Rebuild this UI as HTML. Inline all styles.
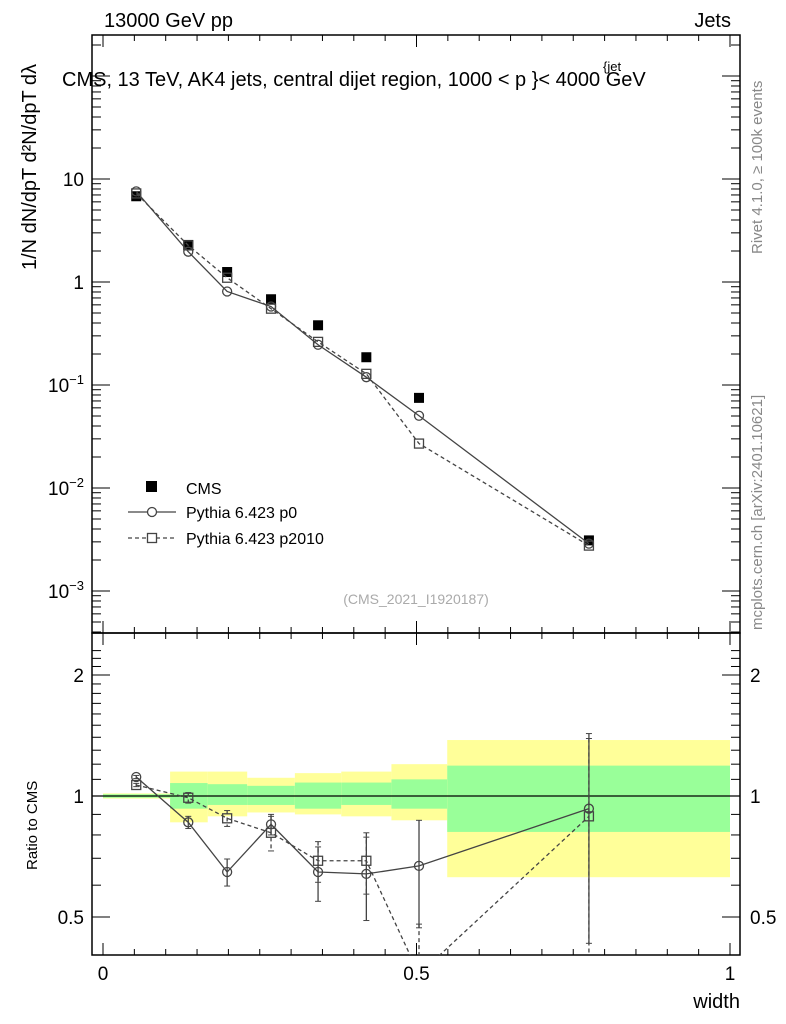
<!DOCTYPE html>
<html><head><meta charset="utf-8"><style>
body{margin:0;background:#fff}
svg{display:block;font-family:"Liberation Sans",sans-serif}
</style></head><body>
<svg id="c" width="786" height="1024" viewBox="0 0 786 1024"></svg>
<script>
const xs=[0.053,0.136,0.198,0.268,0.343,0.42,0.504,0.775];
const cmsVals=[6.8,2.29,1.25,0.68,0.38,0.186,0.075,0.0031];
const p0Ratio=[1.115,0.86,0.647,0.85,0.647,0.64,0.67,0.93];
const p0RatioErr=[0.01,0.03,0.05,0.05,0.1,0.15,0.2,0.5];
const p2010Ratio=[1.065,0.99,0.88,0.81,0.69,0.69,0.36,0.89];
const p2010RatioErr=[0.01,0.03,0.04,0.08,0.08,0.12,0.12,0.5];
const binEdges=[0,0.107,0.167,0.23,0.306,0.38,0.46,0.549,1.0];
const greenLo=[0.99,0.93,0.95,0.95,0.93,0.95,0.93,0.814];
const greenHi=[1.01,1.077,1.07,1.06,1.08,1.08,1.1,1.19];
const yellowLo=[0.985,0.86,0.89,0.91,0.90,0.89,0.87,0.628];
const yellowHi=[1.015,1.15,1.15,1.11,1.14,1.15,1.2,1.378];
const yTicks=[{v:10,l:"10"},{v:1,l:"1"},{v:0.1,l:"10",e:"−1"},{v:0.01,l:"10",e:"−2"},{v:0.001,l:"10",e:"−3"}];
const rTicks=[{v:2,l:"2"},{v:1,l:"1"},{v:0.5,l:"0.5"}];

const NS="http://www.w3.org/2000/svg";
const svg=document.getElementById('c');
const L=92,R=740,T=35,M=633,B=955;
const X=v=>103+v*627;
const Y=v=>179-(Math.log10(v)-1)*103;
const RY=v=>796-Math.log2(v)*121;
function el(t,a,p){const e=document.createElementNS(NS,t);for(const k in a)e.setAttribute(k,a[k]);(p||svg).appendChild(e);return e;}
function tx(s,a){const e=el('text',a);e.textContent=s;return e;}

const bands=el('g',{});


for(let i=0;i<binEdges.length-1;i++){
  const x1=X(binEdges[i]),x2=X(binEdges[i+1]);
  const y=el('rect',{x:x1,y:RY(yellowHi[i]),width:x2-x1,height:RY(yellowLo[i])-RY(yellowHi[i]),fill:'#ffff99'},bands);
  
  
  const g=el('rect',{x:x1,y:RY(greenHi[i]),width:x2-x1,height:RY(greenLo[i])-RY(greenHi[i]),fill:'#99ff99'},bands);
  
  
}
const one=el('line',{x1:L,x2:R,y1:RY(1),y2:RY(1),stroke:'#000','stroke-width':1.3});



const f1=el('rect',{x:L,y:T,width:R-L,height:M-T,fill:'none',stroke:'#000','stroke-width':1.5});


const f2=el('rect',{x:L,y:M,width:R-L,height:B-M,fill:'none',stroke:'#000','stroke-width':1.5});



for(let v=0;v<=1.0001;v+=0.05){
  const major=Math.abs(v*10-Math.round(v*10))<1e-6&&Math.round(v*10)%5===0;
  const len=major?12:6;
  for(const [yb,d] of [[B,-1],[M,-1],[T,1],[M,1]]){
    el('line',{x1:X(v),x2:X(v),y1:yb,y2:yb+d*len,stroke:'#000'});
  }
}
[[0,"0"],[0.5,"0.5"],[1,"1"]].forEach(([v,l])=>{const t=tx(l,{x:X(v),y:980,'text-anchor':'middle','font-size':19});

});
const xt=tx("width",{x:740,y:1008,'text-anchor':'end','font-size':20});



for(let d=-4;d<=2;d++){for(let m=1;m<10;m++){
  const v=m*Math.pow(10,d);const y=Y(v);if(y<T||y>M)continue;
  const len=m===1?18:9;
  el('line',{x1:L,x2:L+len,y1:y,y2:y,stroke:'#000'});
  el('line',{x1:R,x2:R-len,y1:y,y2:y,stroke:'#000'});
}}
yTicks.forEach(t=>{
  const e=tx('',{x:84,y:Y(t.v)+7,'text-anchor':'end','font-size':19});
  
  
  if(t.e){e.textContent=t.l;const s=el('tspan',{dy:-8,'font-size':13},e);s.textContent=t.e;}else e.textContent=t.l;
});
for(let v=0.4;v<=2.4;v+=0.1){const y=RY(v);if(y<M||y>B)continue;
  const big=[0.5,1,2].some(q=>Math.abs(q-v)<1e-6);const len=big?18:9;
  el('line',{x1:L,x2:L+len,y1:y,y2:y,stroke:'#000'});
  el('line',{x1:R,x2:R-len,y1:y,y2:y,stroke:'#000'});
}
rTicks.forEach(t=>{
  const a=tx(t.l,{x:84,y:RY(t.v)+7,'text-anchor':'end','font-size':19});
  
  
  const b=tx(t.l,{x:750,y:RY(t.v)+7,'font-size':19});
  
  
});

const p0Vals=cmsVals.map((c,i)=>c*p0Ratio[i]);
const p2Vals=cmsVals.map((c,i)=>c*p2010Ratio[i]);
const clipM=el('clipPath',{id:'cm'});el('rect',{x:L,y:T,width:R-L,height:M-T},clipM);
const clipR=el('clipPath',{id:'cr'});el('rect',{x:L,y:M,width:R-L,height:B-M},clipR);
function series(vals,yf,clip,dash,marker,name,errs){
  const g=el('g',{'clip-path':'url(#'+clip+')'});
  
  
  el('polyline',{points:xs.map((x,i)=>X(x)+','+yf(vals[i])).join(' '),fill:'none',stroke:'#444','stroke-width':1.3,'stroke-dasharray':dash},g);
  xs.forEach((x,i)=>{
    const cx=X(x),cy=yf(vals[i]);
    if(errs){const e=errs[i];const y1=yf(vals[i]+e),y2=yf(Math.max(vals[i]-e,0.01));
      el('line',{x1:cx,x2:cx,y1:y1,y2:y2,stroke:'#444','stroke-width':1.3,'stroke-dasharray':dash},g);
      el('line',{x1:cx-3,x2:cx+3,y1:y1,y2:y1,stroke:'#444'},g);el('line',{x1:cx-3,x2:cx+3,y1:y2,y2:y2,stroke:'#444'},g);}
    let m;
    if(marker==='o')m=el('circle',{cx:cx,cy:cy,r:4.5,fill:'none',stroke:'#444','stroke-width':1.3},g);
    else m=el('rect',{x:cx-4.5,y:cy-4.5,width:9,height:9,fill:'none',stroke:'#444','stroke-width':1.3},g);
    
    
  });
}
const cg=el('g',{});


xs.forEach((x,i)=>{const r=el('rect',{x:X(x)-5,y:Y(cmsVals[i])-5,width:10,height:10,fill:'#000'},cg);

});
series(p0Vals,Y,'cm','','o','pythia-p0-main');
series(p2Vals,Y,'cm','4,3','s','pythia-p2010-main');
series(p0Ratio,RY,'cr','','o','pythia-p0-ratio',p0RatioErr);
series(p2010Ratio,RY,'cr','4,3','s','pythia-p2010-ratio',p2010RatioErr);

const lg=el('g',{});


el('rect',{x:146,y:481,width:11,height:11,fill:'#000'},lg);
tx("CMS",{x:186,y:494,'font-size':16});
el('line',{x1:128,x2:176,y1:512,y2:512,stroke:'#444','stroke-width':1.3},lg);
el('circle',{cx:152,cy:512,r:4.5,fill:'#fff',stroke:'#444','stroke-width':1.3},lg);
tx("Pythia 6.423 p0",{x:186,y:518,'font-size':16});
el('line',{x1:128,x2:176,y1:538,y2:538,stroke:'#444','stroke-width':1.3,'stroke-dasharray':'4,3'},lg);
el('rect',{x:147.5,y:533.5,width:9,height:9,fill:'#fff',stroke:'#444','stroke-width':1.3},lg);
tx("Pythia 6.423 p2010",{x:186,y:544,'font-size':16});

const a=tx("13000 GeV pp",{x:104,y:27,'font-size':20});
const b=tx("Jets",{x:731,y:27,'text-anchor':'end','font-size':20});
const t=tx("CMS, 13 TeV, AK4 jets, central dijet region, 1000 < p  }< 4000 GeV",{x:62,y:86,'font-size':20});

const sup=tx("{jet",{x:603,y:71,'font-size':13});
const ref=tx("(CMS_2021_I1920187)",{x:416,y:604,'text-anchor':'middle','font-size':14,fill:'#aaa'});

const r1=tx("Rivet 4.1.0, ≥ 100k events",{x:0,y:0,'font-size':15,fill:'#888',transform:'translate(762,254) rotate(-90)'});

const r2=tx("mcplots.cern.ch [arXiv:2401.10621]",{x:0,y:0,'font-size':15,fill:'#888',transform:'translate(762,630) rotate(-90)'});

const yl=tx("1/N dN/dpT  d²N/dpT dλ",{x:0,y:0,'font-size':20,transform:'translate(36,270) rotate(-90)'});

const rl=tx("Ratio to CMS",{x:0,y:0,'font-size':15,transform:'translate(37,870) rotate(-90)'});

</script>
</body></html>
